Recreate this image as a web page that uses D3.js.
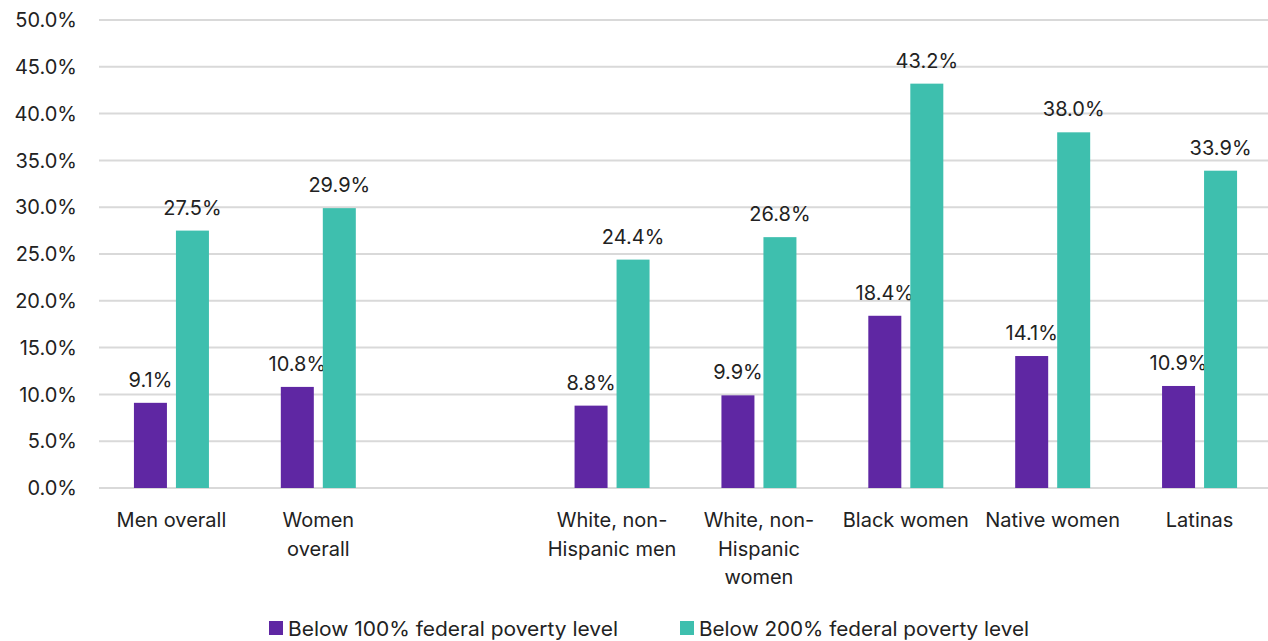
<!DOCTYPE html>
<html>
<head>
<meta charset="utf-8">
<script src="https://cdn.jsdelivr.net/npm/d3@7"></script>
<style>
  body { margin: 0; background: #fff; }
  text { font-family: Inter, "Noto Sans", sans-serif; fill: #222; }
</style>
</head>
<body>
<div id="viz"></div>
<script>
// data
var categories = ["Men overall", "Women overall", "gap", "White, non-Hispanic men",
                  "White, non-Hispanic women", "Black women", "Native women", "Latinas"];
var categoryLines = [["Men overall"], ["Women", "overall"], [], ["White, non-", "Hispanic men"],
                     ["White, non-", "Hispanic", "women"], ["Black women"], ["Native women"], ["Latinas"]];
var below100 = [9.1, 10.8, null, 8.8, 9.9, 18.4, 14.1, 10.9];
var below200 = [27.5, 29.9, null, 24.4, 26.8, 43.2, 38.0, 33.9];
var seriesNames = ["Below 100% federal poverty level", "Below 200% federal poverty level"];
var yTicks = [0, 5, 10, 15, 20, 25, 30, 35, 40, 45, 50];

var width = 1268, height = 641,
    colors = ["#5F27A3", "#3EBFAE"],
    fs = "20px";

var svg = d3.select("#viz").append("svg")
    .attr("width", width)
    .attr("height", height);

var x = d3.scaleBand().domain(categories).range([98, 1273]),
    y = d3.scaleLinear().domain([0, 50]).range([488, 20]);

// gridlines
svg.append("g").selectAll("line")
    .data(yTicks)
    .enter().append("line")
        .attr("x1", 99)
        .attr("x2", width)
        .attr("y1", function(d){ return y(d); })
        .attr("y2", function(d){ return y(d); })
        .attr("stroke", "#d9d9d9")
        .attr("stroke-width", 2);

// y labels
svg.append("g").selectAll("text")
    .data(yTicks)
    .enter().append("text")
        .attr("x", 77)
        .attr("y", function(d){ return y(d); })
        .attr("dy", "0.36em")
        .attr("text-anchor", "end")
        .style("font-size", fs)
        .text(function(d){ return d.toFixed(1) + "%"; });

var barW = 33, gapW = 9;
var rows = categories.map(function(c, i){ return {cat: c, v: [below100[i], below200[i]]}; })
    .filter(function(d){ return d.v[0] != null; });

[0, 1].forEach(function(s){
    var off = s == 0 ? -(barW + gapW / 2) : gapW / 2;
    var g = svg.append("g");
    g.selectAll("rect")
        .data(rows)
        .enter().append("rect")
            .attr("x", function(d){ return x(d.cat) + x.bandwidth() / 2 + off; })
            .attr("y", function(d){ return y(d.v[s]); })
            .attr("width", barW)
            .attr("height", function(d){ return y(0) - y(d.v[s]); })
            .attr("fill", colors[s]);
    g.selectAll("text")
        .data(rows)
        .enter().append("text")
            .attr("x", function(d){ return x(d.cat) + x.bandwidth() / 2 + off + barW / 2; })
            .attr("y", function(d){ return y(d.v[s]) - 16; })
            .attr("text-anchor", "middle")
            .style("font-size", fs)
            .text(function(d){ return d.v[s].toFixed(1) + "%"; });
});

// x labels
var xl = svg.append("g").selectAll("text")
    .data(categories)
    .enter().append("text")
        .attr("text-anchor", "middle")
        .style("font-size", fs);
xl.each(function(d, i){
    var t = d3.select(this);
    categoryLines[i].forEach(function(line, j){
        t.append("tspan")
            .attr("x", x(d) + x.bandwidth() / 2)
            .attr("y", 527 + j * 28.5)
            .text(line);
    });
});

// legend
var legX = [269, 680];
var leg = svg.append("g").selectAll("g")
    .data(seriesNames)
    .enter().append("g")
        .attr("transform", function(d, i){ return "translate(" + legX[i] + ",621)"; });
leg.append("rect")
    .attr("width", 14).attr("height", 14)
    .attr("fill", function(d, i){ return colors[i]; });
leg.append("text")
    .attr("x", 19).attr("y", 15)
    .style("font-size", fs)
    .attr("textLength", 330)
    .attr("lengthAdjust", "spacingAndGlyphs")
    .text(function(d){ return d; });
</script>
</body>
</html>
